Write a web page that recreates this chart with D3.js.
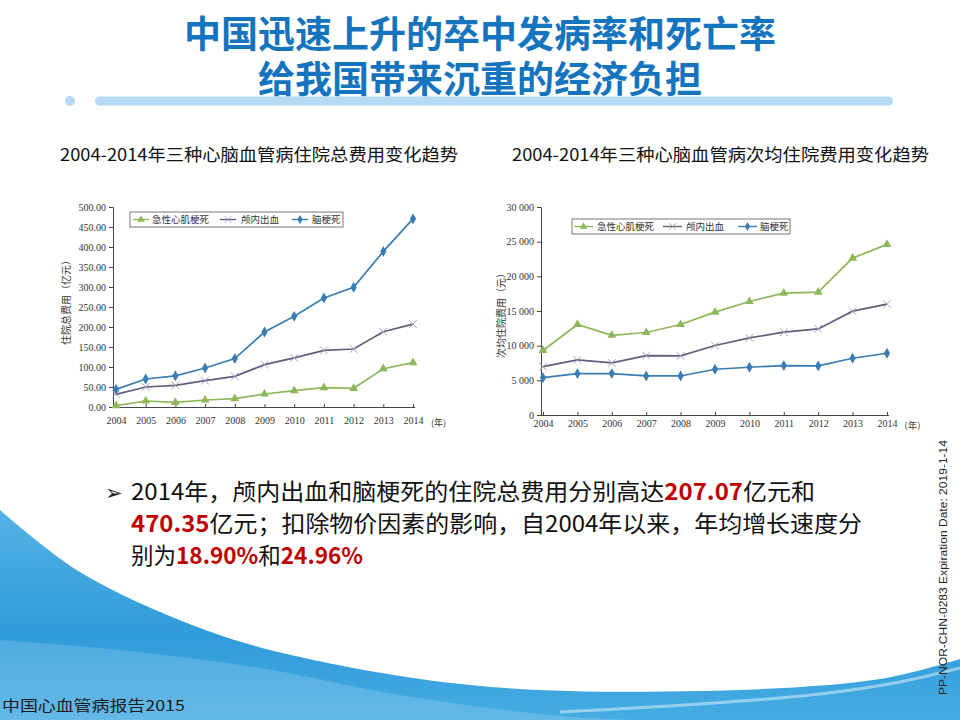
<!DOCTYPE html>
<html>
<head>
<meta charset="utf-8">
<style>
    body { margin: 0; background: #fff; }
    svg { display: block; }
    .cjk { font-family: "Noto Sans CJK SC", "Noto Sans", sans-serif; }
    .tick text { font-family: "Liberation Serif", "DejaVu Serif", serif; font-size: 10px; fill: #333; }
    .axis path, .axis line { stroke: #444; stroke-width: 1; }
</style>
</head>
<body>
<div id="slide"></div>
<script src="https://cdn.jsdelivr.net/npm/d3@7"></script>
<script>

//////////////////// donnees ////////////////////
const years = [2004, 2005, 2006, 2007, 2008, 2009, 2010, 2011, 2012, 2013, 2014];
const seriesNames = ['急性心肌梗死', '颅内出血', '脑梗死'];

//住院总费用 (亿元)
const totalAMI = [3.3, 15, 11.7, 17.5, 20.8, 32.5, 40.8, 48.3, 46.7, 95.8, 110.8];
const totalICH = [31.7, 50, 54, 65.8, 76.7, 105.8, 123, 141.7, 145, 188, 207.07];
const totalCI  = [44, 70, 78, 97.5, 121, 187.5, 226.7, 272.5, 299, 389, 470.35];
const totalTicks = [0, 50, 100, 150, 200, 250, 300, 350, 400, 450, 500];

// 次均住院费用 (元)
const perAMI = [9300, 13050, 11500, 11900, 13050, 14830, 16370, 17580, 17720, 22630, 24610];
const perICH = [6980, 7950, 7510, 8570, 8520, 10020, 11120, 11940, 12420, 14980, 15990];
const perCI  = [5390, 5970, 5970, 5630, 5630, 6600, 6890, 7130, 7080, 8190, 8910];
const perTicks = [0, 5000, 10000, 15000, 20000, 25000, 30000];

//////////////////// styles series ////////////////////
const colors = ['#8db85a', '#675a7e', '#3a7db2'];
const markColors = ['#8db85a', '#a59fb3', '#3a7db2'];
const symbols = [d3.symbolTriangle, d3.symbolTimes, d3.symbolDiamond];

const W = 960, H = 720;
const svg = d3.select('#slide').append('svg')
    .attr('width', W)
    .attr('height', H);

//////////////////// fond ////////////////////
const defs = svg.append('defs');
const grad = defs.append('linearGradient')
    .attr('id', 'vague')
    .attr('x1', 0).attr('y1', 0).attr('x2', 0).attr('y2', 1);
grad.append('stop').attr('offset', '0%').attr('stop-color', '#55b3e5');
grad.append('stop').attr('offset', '60%').attr('stop-color', '#2f9bd9');
grad.append('stop').attr('offset', '100%').attr('stop-color', '#47ace3');

const curve = d3.line().curve(d3.curveCatmullRom.alpha(0.5));
let bord = [[0, 510], [80, 572], [200, 628], [300, 657], [480, 686], [700, 691], [880, 679], [960, 659]];
svg.append('path')
    .attr('d', curve(bord) + `L ${W} ${H} L 0 ${H} Z`)
    .attr('fill', 'url(#vague)');

// reflets clairs
let reflet1 = [[0, 640], [120, 650], [260, 668], [400, 695], [560, 716], [700, 722]];
svg.append('path')
    .attr('d', curve(reflet1) + `L 0 ${H} Z`)
    .attr('fill', '#ffffff')
    .attr('opacity', 0.16);
let reflet2 = [[560, 712], [700, 704], [820, 694], [900, 682], [960, 668]];
svg.append('path')
    .attr('d', curve(reflet2))
    .attr('fill', 'none')
    .attr('stroke', '#ffffff')
    .attr('stroke-width', 3)
    .attr('opacity', 0.45);

//////////////////// titre ////////////////////
svg.append('text')
    .classed('cjk', true)
    .attr('x', 480).attr('y', 48)
    .attr('text-anchor', 'middle')
    .attr('font-size', 37).attr('font-weight', 'bold')
    .attr('fill', '#1574be')
    .text('中国迅速上升的卒中发病率和死亡率');
svg.append('text')
    .classed('cjk', true)
    .attr('x', 480).attr('y', 93)
    .attr('text-anchor', 'middle')
    .attr('font-size', 37).attr('font-weight', 'bold')
    .attr('fill', '#1574be')
    .text('给我国带来沉重的经济负担');

svg.append('circle')
    .attr('cx', 70).attr('cy', 101).attr('r', 5)
    .attr('fill', '#b5daf1');
svg.append('rect')
    .attr('x', 95).attr('y', 96.5)
    .attr('width', 798).attr('height', 9).attr('rx', 4.5)
    .attr('fill', '#b5daf1');

//////////////////// sous-titres ////////////////////
svg.append('text')
    .classed('cjk', true)
    .attr('x', 60).attr('y', 161)
    .attr('font-size', 17).attr('fill', '#111')
    .attr('textLength', 398).attr('lengthAdjust', 'spacingAndGlyphs')
    .text('2004-2014年三种心脑血管病住院总费用变化趋势');
svg.append('text')
    .classed('cjk', true)
    .attr('x', 512).attr('y', 161)
    .attr('font-size', 17).attr('fill', '#111')
    .attr('textLength', 417).attr('lengthAdjust', 'spacingAndGlyphs')
    .text('2004-2014年三种心脑血管病次均住院费用变化趋势');

//////////////////// graphiques ////////////////////
const fmtRight = d3.formatLocale({decimal: '.', thousands: ' ', grouping: [3], currency: ['', '']}).format(',d');

genChart({
    axeX: 113, xRange: [116, 413], yRange: [407, 207],
    ticks: totalTicks, fmt: d3.format('.2f'),
    series: [totalAMI, totalICH, totalCI],
    yTitle: '住院总费用（亿元）', yTitleX: 66, yTitleY: 300,
    nian: '(年)', nianX: 431, labelY: 425,
    legend: {x: 130, y: 212, w: 213, h: 15, line: [133, 220, 292], lineW: 16, text: [152, 241, 312]}
});

genChart({
    axeX: 541, xRange: [543, 887], yRange: [415, 207],
    ticks: perTicks, fmt: fmtRight,
    series: [perAMI, perICH, perCI],
    yTitle: '次均住院费用（元）', yTitleX: 501, yTitleY: 313,
    nian: '（年）', nianX: 899, labelY: 428,
    legend: {x: 572, y: 219, w: 218, h: 15, line: [574, 663, 738], lineW: 19, text: [597, 686, 760]}
});

function genChart(o) {
    const x = d3.scaleLinear().domain([years[0], years[years.length - 1]]).range(o.xRange);
    const y = d3.scaleLinear().domain([o.ticks[0], o.ticks[o.ticks.length - 1]]).range(o.yRange);
    const g = svg.append('g');

    // axe y
    g.append('g')
        .classed('axis', true)
        .attr('transform', `translate(${o.axeX}, 0)`)
        .call(d3.axisLeft(y).tickValues(o.ticks).tickFormat(o.fmt).tickSizeInner(4).tickSizeOuter(4).tickPadding(3));

    // axe x
    const ax = g.append('g')
        .classed('axis', true)
        .attr('transform', `translate(0, ${o.yRange[0]})`)
        .call(d3.axisBottom(x).tickValues(years).tickFormat(d3.format('d')).tickSizeInner(-3).tickSizeOuter(0).tickPadding(10));
    ax.select('.domain').attr('d', `M${o.axeX},0.5H${o.xRange[1] + 2}`);
    ax.selectAll('.tick text').attr('y', o.labelY - o.yRange[0] - 8).attr('dy', '0.71em');

    g.append('text')
        .classed('cjk', true)
        .attr('x', o.nianX).attr('y', o.labelY + 1)
        .attr('font-size', 9).attr('fill', '#333')
        .text(o.nian);

    // titre y
    g.append('text')
        .classed('cjk', true)
        .attr('transform', `translate(${o.yTitleX}, ${o.yTitleY}) rotate(-90)`)
        .attr('text-anchor', 'middle')
        .attr('dy', '0.35em')
        .attr('font-size', 10).attr('fill', '#333')
        .text(o.yTitle);

    // courbes
    o.series.forEach((values, i) => {
        const pts = years.map((yr, k) => [x(yr), y(values[k])]);
        g.append('path')
            .attr('d', d3.line()(pts))
            .attr('fill', 'none')
            .attr('stroke', colors[i])
            .attr('stroke-width', 1.7);
        g.selectAll(null)
            .data(pts)
            .enter().append('path')
            .attr('transform', d => `translate(${d[0]}, ${d[1]})`)
            .attr('d', d3.symbol().type(symbols[i]).size(i == 1 ? 40 : 34))
            .attr('fill', i == 1 ? 'none' : markColors[i])
            .attr('stroke', i == 1 ? markColors[i] : 'none')
            .attr('stroke-width', 1);
    });

    // legende
    const L = o.legend;
    const lg = g.append('g');
    lg.append('rect')
        .attr('x', L.x).attr('y', L.y)
        .attr('width', L.w).attr('height', L.h)
        .attr('fill', '#fff').attr('stroke', '#555').attr('stroke-width', 0.8);
    seriesNames.forEach((name, i) => {
        const cy = L.y + L.h / 2;
        lg.append('line')
            .attr('x1', L.line[i]).attr('x2', L.line[i] + L.lineW)
            .attr('y1', cy).attr('y2', cy)
            .attr('stroke', colors[i]).attr('stroke-width', 1.4);
        lg.append('path')
            .attr('transform', `translate(${L.line[i] + L.lineW / 2}, ${cy})`)
            .attr('d', d3.symbol().type(symbols[i]).size(i == 1 ? 30 : 24))
            .attr('fill', i == 1 ? 'none' : markColors[i])
            .attr('stroke', i == 1 ? markColors[i] : 'none');
        lg.append('text')
            .classed('cjk', true)
            .attr('x', L.text[i]).attr('y', cy)
            .attr('dy', '0.35em')
            .attr('font-size', 9.5).attr('fill', '#333')
            .text(name);
    });
}

//////////////////// texte ////////////////////
const puce = [
    [['2014年，颅内出血和脑梗死的住院总费用分别高达', false], ['207.07', true], ['亿元和', false]],
    [['470.35', true], ['亿元；扣除物价因素的影响，自2004年以来，年均增长速度分', false]],
    [['别为', false], ['18.90%', true], ['和', false], ['24.96%', true]]
];
const puceLen = [684, 731, 232];

svg.append('text')
    .attr('x', 105).attr('y', 500)
    .attr('font-family', 'DejaVu Sans')
    .attr('font-size', 21).attr('fill', '#222')
    .text('➢');

puce.forEach((ligne, i) => {
    const t = svg.append('text')
        .classed('cjk', true)
        .attr('x', 131).attr('y', 500 + i * 32)
        .attr('font-size', 23)
        .attr('textLength', puceLen[i]).attr('lengthAdjust', 'spacingAndGlyphs');
    ligne.forEach(([s, rouge]) => {
        t.append('tspan')
            .attr('fill', rouge ? '#c00000' : '#111')
            .attr('font-weight', rouge ? 'bold' : 'normal')
            .text(s);
    });
});

//////////////////// pied ////////////////////
svg.append('text')
    .classed('cjk', true)
    .attr('x', 2).attr('y', 711)
    .attr('font-size', 15).attr('fill', '#1a1a1a')
    .attr('textLength', 183).attr('lengthAdjust', 'spacingAndGlyphs')
    .text('中国心血管病报告2015');

svg.append('text')
    .attr('transform', 'translate(947, 695) rotate(-90)')
    .attr('font-family', 'Liberation Sans, Arial, sans-serif')
    .attr('font-size', 11.5).attr('fill', '#222')
    .attr('textLength', 255).attr('lengthAdjust', 'spacingAndGlyphs')
    .text('PP-NOR-CHN-0283 Expiration Date: 2019-1-14');

</script>
</body>
</html>
